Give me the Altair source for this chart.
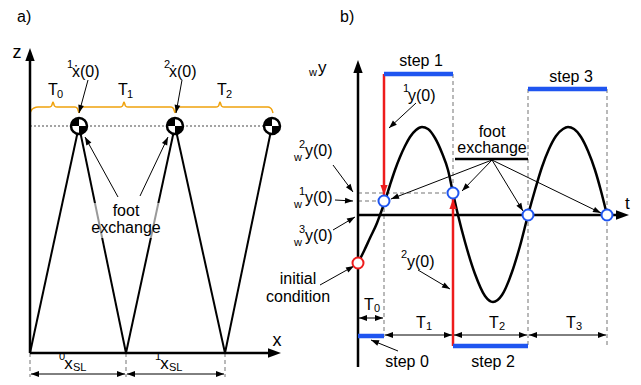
import math
import altair as alt
import pandas as pd

FONT = "Liberation Sans"
BLUE = "#1f55f0"
RED = "#ee1c1c"
ORANGE = "#f0a20c"
GREY = "#a3a3a3"

# ---------------- panel a (sketch units = reference pixels) ----------------
a_foot_x = [30, 126, 225]          # foot contact points on the ground
a_com_x = [79, 175, 272]           # CoM positions at foot exchange
a_ground_y = 353
a_com_y = 126
a_dim_y = 374
a_brace_x = [30, 31.5, 34, 38, 49, 51.5, 53, 54.5, 57, 68, 75, 77.5, 79, 80.5, 83, 110,
             120, 122.5, 124, 125.5, 128, 160, 171, 173.5, 175, 176.5, 179, 200,
             216, 218.5, 220, 221.5, 224, 260, 268, 270.5, 272, 273]
a_brace_y = [113, 110, 108, 107, 107, 106, 102, 106, 107, 107, 107, 108.5, 112.5, 108.5, 107, 107,
             107, 106, 102, 106, 107, 107, 107, 108.5, 112.5, 108.5, 107, 107,
             107, 106, 102, 106, 107, 107, 107, 108, 110, 113]

# ---------------- panel b ----------------
b_t0 = 358                           # time axis origin (x)
b_y0 = 215                           # y = 0 line
b_switch_t = [384, 453, 528, 607]    # ends of T0..T3
b_switch_y = [201, 193, 215, 215]    # y at foot exchange
b_init_y = 263
b_curve_t = [358, 364, 370, 377, 380, 385, 390, 395, 400, 405, 410, 416, 422, 428, 435, 442, 448,
             453, 458, 465, 475, 485, 493, 502, 512, 520, 528, 535, 542, 549, 556, 563, 568, 574,
             581, 588, 595, 601, 607]
b_curve_y = [263, 251, 238, 223, 215, 201, 185, 170, 157, 146, 137, 130, 127, 129, 138, 153, 170,
             193, 215, 242, 274, 296, 302, 295, 272, 246, 215, 190, 167, 149, 136, 129, 127, 129,
             137, 151, 170, 191, 215]
b_step_y = [336, 74, 346, 89]        # level of the step 0..3 bars

XS = alt.Scale(domain=[8, 633], nice=False, zero=False)
YS = alt.Scale(domain=[8, 377], nice=False, zero=False, reverse=True)
X = alt.X("x:Q", scale=XS, axis=None)
Y = alt.Y("y:Q", scale=YS, axis=None)


def rules(segs, color, width, dash=None):
    df = pd.DataFrame([dict(x=a, y=b, x2=c, y2=d) for a, b, c, d in segs])
    kw = dict(color=color, strokeWidth=width, strokeCap="butt")
    if dash:
        kw["strokeDash"] = dash
    return alt.Chart(df).mark_rule(**kw).encode(x=X, y=Y, x2="x2:Q", y2="y2:Q")


HEAD = "M0,0 L-0.36,1 L0.36,1 Z"


def heads(items, color, L):
    rows = []
    for x1, y1, x2, y2 in items:
        ang = math.degrees(math.atan2(x2 - x1, -(y2 - y1))) % 360
        rows.append(dict(x=x2, y=y2, ang=ang, sz=(2 * L) ** 2))
    return alt.Chart(pd.DataFrame(rows)).mark_point(
        shape=HEAD, filled=True, color=color, opacity=1, strokeWidth=0
    ).encode(x=X, y=Y, angle=alt.Angle("ang:Q", scale=None), size=alt.Size("sz:Q", scale=None))


def texts(rows, align):
    df = pd.DataFrame(rows, columns=["x", "y", "t", "fs"])
    return alt.Chart(df).mark_text(font=FONT, align=align, baseline="middle", color="black").encode(
        x=X, y=Y, text="t:N", size=alt.Size("fs:Q", scale=None))


layers = []

# orange brace
layers.append(alt.Chart(pd.DataFrame({"x": a_brace_x, "y": a_brace_y})).mark_line(
    color=ORANGE, strokeWidth=1.5, interpolate="monotone").encode(x=X, y=Y))

# dotted CoM height line
layers.append(rules([(a_foot_x[0], a_com_y, 265, a_com_y)], GREY, 2, [2, 2]))

# dashed helper lines
dashed = [(fx, a_ground_y, fx, 385) for fx in a_foot_x]
dashed += [(b_switch_t[1], b_step_y[1], b_switch_t[1], b_switch_y[1]),
           (b_switch_t[0], b_switch_y[0], b_switch_t[0], 337),
           (b_switch_t[2], b_step_y[3], b_switch_t[2], 347),
           (b_switch_t[3], b_step_y[3], b_switch_t[3], 348),
           (b_t0, b_switch_y[1], b_switch_t[1], b_switch_y[1]),
           (b_t0, b_switch_y[0], b_switch_t[0], b_switch_y[0])]
layers.append(rules(dashed, GREY, 1.5, [4, 3]))

# legs
legs = []
for i, cx in enumerate(a_com_x):
    legs.append((a_foot_x[i], a_ground_y, cx, a_com_y))
    if i + 1 < len(a_foot_x):
        legs.append((cx, a_com_y, a_foot_x[i + 1], a_ground_y))
layers.append(rules(legs, "black", 2))

# axes
axes = [(30, a_ground_y, 30, 60), (30, a_ground_y, 268, a_ground_y),
        (b_t0, 367, b_t0, 72), (b_t0, b_y0, 616, b_y0)]
layers.append(rules(axes, "black", 2.5))
layers.append(heads([(30, 100, 30, 48), (200, a_ground_y, 281, a_ground_y),
                     (b_t0, 100, b_t0, 60), (500, b_y0, 629, b_y0)], "black", 13))

# trajectory
layers.append(alt.Chart(pd.DataFrame({"x": b_curve_t, "y": b_curve_y})).mark_line(
    color="black", strokeWidth=2.5, interpolate="monotone").encode(x=X, y=Y))

# red initial-value jumps
red = [(b_switch_t[0], b_step_y[1], b_switch_t[0], 195), (b_switch_t[1], b_step_y[2], b_switch_t[1], 199)]
layers.append(rules([(a, b, c, d + (6 if d > b else -6)) for a, b, c, d in red], RED, 2.5))
layers.append(heads(red, RED, 10))

# step bars
bars = [(b_t0, b_step_y[0], b_switch_t[0], b_step_y[0]),
        (b_switch_t[0], b_step_y[1], b_switch_t[1], b_step_y[1]),
        (b_switch_t[1], b_step_y[2], b_switch_t[2], b_step_y[2]),
        (b_switch_t[2], b_step_y[3], b_switch_t[3], b_step_y[3])]
layers.append(rules(bars, BLUE, 4.5))

# thin annotation arrows
single = [(88, 80, 79, 113), (182, 80, 176, 113), (118, 197, 85, 137), (140, 196, 168, 137),
          (416, 103, 389, 128), (418, 270, 450, 289), (333, 165, 353, 192), (335, 200, 353, 201),
          (333, 230, 355, 217), (320, 285, 354, 266), (398, 351, 371, 340),
          (492, 160, 391, 199), (492, 160, 462, 191), (492, 160, 523, 211), (492, 160, 601, 213)]
dims = [(30, a_dim_y, 126, a_dim_y), (126, a_dim_y, 225, a_dim_y),
        (b_t0, 318, b_switch_t[0], 318), (b_switch_t[0], 335, b_switch_t[1], 335),
        (b_switch_t[1], 335, b_switch_t[2], 335), (b_switch_t[2], 335, b_switch_t[3], 335)]
dims_in = [(a + 1, b, c - 1, d) for a, b, c, d in dims]
layers.append(rules(single + dims_in, "black", 1))
layers.append(heads(single + dims_in + [(c, d, a, b) for a, b, c, d in dims_in], "black", 8))

# underline of "foot exchange"
layers.append(rules([(455, 159, 528, 159)], "black", 2.5))

# light mask behind panel-a text
layers.append(alt.Chart(pd.DataFrame({"x": [90], "x2": [163], "y": [203], "y2": [238]})).mark_rect(
    color="white", opacity=0.6).encode(x=X, x2="x2:Q", y=Y, y2="y2:Q"))

# circles
circ = pd.DataFrame({"x": b_switch_t + [b_t0], "y": b_switch_y + [b_init_y],
                     "c": [BLUE] * 4 + [RED]})
layers.append(alt.Chart(circ).mark_point(shape="circle", fill="white", fillOpacity=1, opacity=1,
                                         strokeWidth=2, size=121).encode(
    x=X, y=Y, stroke=alt.Stroke("c:N", scale=None)))

# CoM symbols
com = pd.DataFrame({"x": a_com_x, "y": [a_com_y] * 3})
layers.append(alt.Chart(com).mark_point(shape="circle", fill="white", fillOpacity=1, stroke="black",
                                        strokeWidth=2.5, size=256, opacity=1).encode(x=X, y=Y))
QUAD = "M0,0 L0,-1 A1,1 0 0,0 -1,0 Z M0,0 L0,1 A1,1 0 0,0 1,0 Z"
layers.append(alt.Chart(com).mark_point(shape=QUAD, filled=True, color="black", size=256,
                                        opacity=1, strokeWidth=0).encode(x=X, y=Y))

# texts
left = [(17, 17, "a)", 16), (340, 17, "b)", 16),
        (72, 72, "ẋ(0)", 16), (67, 65, "1", 11), (169, 72, "ẋ(0)", 16), (164, 65, "2", 11),
        (57, 95, "0", 11), (127, 95, "1", 11), (226, 95, "2", 11),
        (59, 357, "0", 11), (73, 368, "SL", 11), (155, 357, "1", 11), (169, 368, "SL", 11),
        (318, 68, "y", 17), (309, 73, "w", 11), (625, 204, "t", 17),
        (408, 96, "y(0)", 16), (403, 89, "1", 11), (407, 262, "y(0)", 16), (401, 255, "2", 11),
        (305, 151, "y(0)", 16), (299, 145, "2", 11), (294, 158, "w", 11),
        (305, 198, "y(0)", 16), (299, 192, "1", 11), (294, 205, "w", 11),
        (305, 236, "y(0)", 16), (299, 230, "3", 11), (294, 243, "w", 11),
        (374, 309, "0", 11), (426, 327, "1", 11), (499, 327, "2", 11), (576, 327, "3", 11)]
center = [(17, 53, "z", 18), (277, 341, "x", 18),
          (53, 90, "T", 16), (123, 90, "T", 16), (222, 90, "T", 16),
          (68.5, 364, "x", 17), (164.5, 364, "x", 17),
          (126, 211, "foot", 16), (126, 228, "exchange", 16),
          (492, 132, "foot", 16), (492, 148, "exchange", 16),
          (421, 61, "step 1", 16), (571, 77, "step 3", 16), (407, 362, "step 0", 16), (493, 362, "step 2", 16),
          (298, 279, "initial", 16), (298, 297, "condition", 16),
          (369, 305, "T", 16), (421, 323, "T", 16), (494, 323, "T", 16), (571, 323, "T", 16)]
layers.append(texts(left, "left"))
layers.append(texts(center, "center"))

chart = alt.layer(*layers).properties(
    width=625, height=369, padding=0, autosize=alt.AutoSizeParams(type="none")
).configure_view(strokeWidth=0)

chart.save("out.html", embed_options={"renderer": "svg", "actions": False})
